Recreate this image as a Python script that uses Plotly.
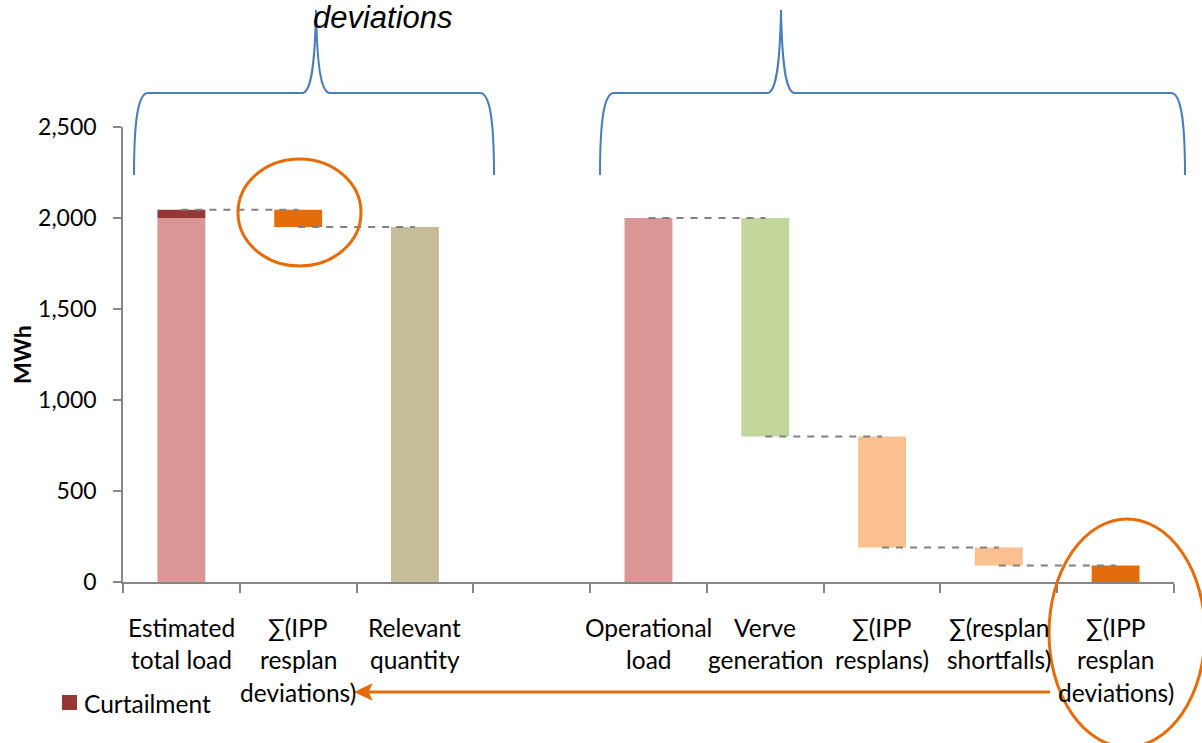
import plotly.graph_objects as go

# ---- data -------------------------------------------------------------
CATEGORIES = [
    "Estimated<br>total load",
    "∑(IPP<br>resplan<br>deviations)",
    "Relevant<br>quantity",
    "",
    "Operational<br>load",
    "Verve<br>generation",
    "∑(IPP<br>resplans)",
    "∑(resplan<br>shortfalls)",
    "∑(IPP<br>resplan<br>deviations)",
]
BAR_VALUES = [2000, 95, 1950, 0, 2000, 1200, 610, 100, 90]
BAR_BASES = [0, 1950, 0, 0, 0, 800, 190, 90, 0]
BAR_COLORS = ["#D99694", "#E46C0A", "#C4BD97", "#FFFFFF",
              "#D99694", "#C3D69B", "#FAC090", "#FAC090", "#E46C0A"]
CURTAILMENT = [45, 0, 0, 0, 0, 0, 0, 0, 0]
CURTAILMENT_NAME = "Curtailment"
CONNECTOR_PAIRS = [(0, 1), (1, 2), (4, 5), (5, 6), (6, 7), (7, 8)]
Y_TICKS = [0, 500, 1000, 1500, 2000, 2500]

# ---- geometry helpers (pixel -> paper) -------------------------------
W, H = 1202, 743
L, R, T, B = 123, 28, 127, 161
PW, PH = W - L - R, H - T - B


def px(x):
    return (x - L) / PW


def py(y):
    return (H - B - y) / PH


FONT = "Lato"
LABEL_SIZE = 24.5
TICK_SIZE = 23
AX_COLOR = "#868686"

x_pos = list(range(len(CATEGORIES)))
fig = go.Figure()

# main waterfall bars
fig.add_trace(go.Bar(
    x=x_pos, y=BAR_VALUES, base=BAR_BASES, width=0.41,
    marker=dict(color=BAR_COLORS, line=dict(width=0)),
    showlegend=False, hoverinfo="skip",
))
# curtailment stacked on top of the estimated load
fig.add_trace(go.Bar(
    x=x_pos, y=CURTAILMENT,
    base=[b + v for b, v in zip(BAR_BASES, BAR_VALUES)], width=0.41,
    marker=dict(color="#953735", line=dict(width=0)),
    name=CURTAILMENT_NAME, showlegend=False, hoverinfo="skip",
))

# dashed connectors between consecutive steps
for a, b in CONNECTOR_PAIRS:
    level = BAR_BASES[b] + BAR_VALUES[b] + CURTAILMENT[b]
    if a == 0:
        level = BAR_BASES[a] + BAR_VALUES[a] + CURTAILMENT[a]
    fig.add_trace(go.Scatter(
        x=[a, b], y=[level, level], mode="lines",
        line=dict(color="#808080", width=2, dash="7px,7px"),
        showlegend=False, hoverinfo="skip",
    ))

shapes = []
annotations = []

# category labels, one line at a time
for i, label in enumerate(CATEGORIES):
    for j, line in enumerate(label.split("<br>")):
        if not line:
            continue
        annotations.append(dict(
            x=i, xref="x", y=py(627 + 32.5 * j), yref="paper",
            text=line, showarrow=False, xanchor="center", yanchor="middle",
            font=dict(family=FONT, size=LABEL_SIZE, color="#000000"),
        ))

# y-axis title
annotations.append(dict(
    x=px(22), y=py(355), xref="paper", yref="paper", text="<b>MWh</b>",
    textangle=-90, showarrow=False, xanchor="center", yanchor="middle",
    font=dict(family=FONT, size=TICK_SIZE, color="#000000"),
))

# brace caption
annotations.append(dict(
    x=px(383), y=py(37), xref="paper", yref="paper", text="deviations",
    showarrow=False, xanchor="center", yanchor="bottom",
    font=dict(family="Liberation Sans", size=31, color="#000000", style="italic"),
))

# legend entry
shapes.append(dict(type="rect", xref="paper", yref="paper",
                   x0=px(62), x1=px(77), y0=py(710), y1=py(695),
                   fillcolor="#953735", line=dict(width=0)))
annotations.append(dict(
    x=px(82), y=py(703), xref="paper", yref="paper", text=CURTAILMENT_NAME,
    showarrow=False, xanchor="left", yanchor="middle",
    font=dict(family=FONT, size=LABEL_SIZE, color="#000000"),
))


def brace(x0, xc, x1, ybot, ymid, ytop):
    pts = [
        ("M", [(x0, ybot)]),
        ("C", [(x0, ymid + 27), (x0 + 4, ymid), (x0 + 14, ymid)]),
        ("L", [(xc - 14, ymid)]),
        ("C", [(xc - 4, ymid), (xc - 1, ymid - 33), (xc, ytop)]),
        ("C", [(xc + 1, ymid - 33), (xc + 4, ymid), (xc + 14, ymid)]),
        ("L", [(x1 - 14, ymid)]),
        ("C", [(x1 - 4, ymid), (x1, ymid + 27), (x1, ybot)]),
    ]
    out = []
    for cmd, ps in pts:
        out.append(cmd + " ".join(f"{px(a):.5f},{py(b):.5f}" for a, b in ps))
    return " ".join(out)


BRACE_COLOR = "#4A7EBB"
shapes.append(dict(type="path", xref="paper", yref="paper",
                   path=brace(134, 316, 494, 175, 93, 10),
                   line=dict(color=BRACE_COLOR, width=2)))
shapes.append(dict(type="path", xref="paper", yref="paper",
                   path=brace(600, 781, 1185, 175, 93, 10),
                   line=dict(color=BRACE_COLOR, width=2)))

# highlight ellipses
ORANGE = "#E46C0A"
shapes.append(dict(type="circle", xref="paper", yref="paper",
                   x0=px(238), x1=px(361), y0=py(266), y1=py(159),
                   line=dict(color=ORANGE, width=3)))
shapes.append(dict(type="circle", xref="paper", yref="paper",
                   x0=px(1049), x1=px(1205), y0=py(747), y1=py(519),
                   line=dict(color=ORANGE, width=3)))

# arrow linking the two deviation terms
shapes.append(dict(type="line", xref="paper", yref="paper",
                   x0=px(1050), x1=px(366), y0=py(692), y1=py(692),
                   line=dict(color=ORANGE, width=3)))
shapes.append(dict(type="path", xref="paper", yref="paper",
                   path=(f"M{px(355):.5f},{py(692):.5f} "
                         f"L{px(372):.5f},{py(684):.5f} "
                         f"L{px(368):.5f},{py(692):.5f} "
                         f"L{px(372):.5f},{py(700):.5f} Z"),
                   fillcolor=ORANGE, line=dict(color=ORANGE, width=1)))

fig.update_layout(
    width=W, height=H, autosize=False,
    margin=dict(l=L, r=R, t=T, b=B, pad=0),
    paper_bgcolor="#FFFFFF", plot_bgcolor="#FFFFFF",
    barmode="overlay", showlegend=False,
    shapes=shapes, annotations=annotations,
    font=dict(family=FONT, size=TICK_SIZE, color="#000000"),
    xaxis=dict(
        range=[-0.5, len(CATEGORIES) - 0.5],
        tickvals=[k - 0.5 for k in range(len(CATEGORIES) + 1)],
        showticklabels=False, ticks="outside", ticklen=9,
        tickcolor=AX_COLOR, tickwidth=1.5,
        showline=True, linecolor=AX_COLOR, linewidth=1.5,
        showgrid=False, zeroline=False, fixedrange=True,
    ),
    yaxis=dict(
        range=[0, 2500], tickvals=Y_TICKS, tickformat=",",
        ticks="outside", ticklen=8, tickcolor=AX_COLOR, tickwidth=1.5,
        ticklabelstandoff=12,
        tickfont=dict(family=FONT, size=TICK_SIZE, color="#000000"),
        showline=True, linecolor=AX_COLOR, linewidth=1.5,
        showgrid=False, zeroline=False, fixedrange=True,
    ),
)

fig.write_html("out.html")
